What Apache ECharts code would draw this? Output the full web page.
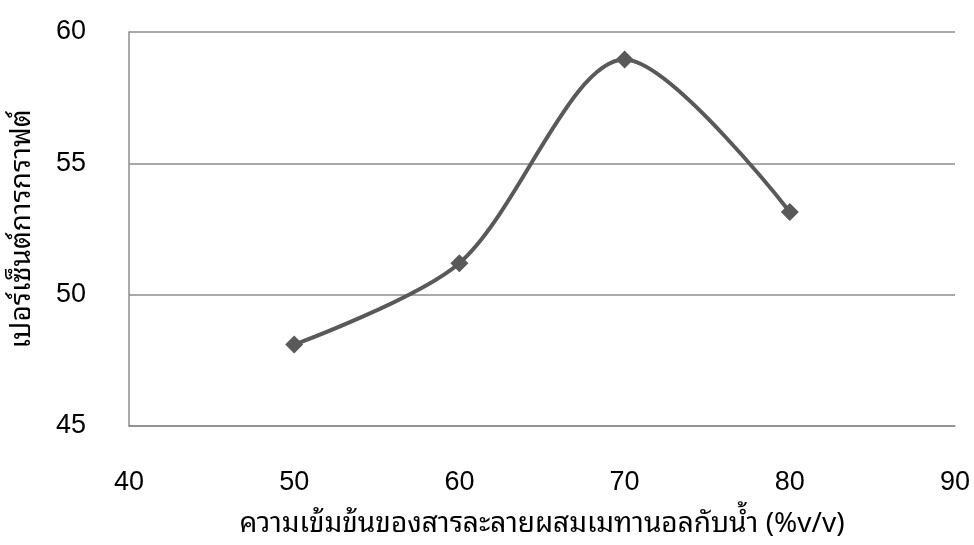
<!DOCTYPE html>
<html><head><meta charset="utf-8">
<script src="https://cdn.jsdelivr.net/npm/echarts@6/dist/echarts.min.js"></script>
<style>html,body{margin:0;padding:0;background:#fff}#c{width:974px;height:545px}</style>
</head><body><div id="c"></div>
<script>
const xValues = [50, 60, 70, 80];
const yValues = [48.1, 51.2, 58.95, 53.15];
const xName = 'ความเข้มข้นของสารละลายผสมเมทานอลกับน้ำ (%v/v)';
const yName = 'เปอร์เซ็นต์การกราฟต์';
const font = '"Noto Sans Thai Looped", "Noto Sans Thai", "Noto Sans", sans-serif';
const numFont = '"Liberation Sans", Arial, sans-serif';

const chart = echarts.init(document.getElementById('c'));
chart.setOption({
  animation: false,
  grid: {left: 129, right: 19, top: 32, bottom: 119, outerBoundsMode: 'none', containLabel: false},
  xAxis: {
    type: 'value', min: 40, max: 90, interval: 10,
    name: xName, nameLocation: 'middle', nameGap: 84,
    nameTextStyle: {fontFamily: font, fontSize: 28, color: '#000'},
    axisLine: {show: true, onZero: false, lineStyle: {color: '#8c8c8c', width: 1.5}},
    axisTick: {show: false},
    splitLine: {show: false},
    axisLabel: {margin: 43, fontFamily: numFont, fontSize: 27, color: '#000'}
  },
  yAxis: {
    type: 'value', min: 45, max: 60, interval: 5,
    name: yName, nameLocation: 'middle', nameGap: 93, nameRotate: 90,
    nameTextStyle: {fontFamily: font, fontSize: 28, color: '#000'},
    axisLine: {show: true, lineStyle: {color: '#8c8c8c', width: 1.5}},
    axisTick: {show: false},
    splitLine: {show: true, lineStyle: {color: '#8c8c8c', width: 1.5}},
    axisLabel: {margin: 43, fontFamily: numFont, fontSize: 27, color: '#000'}
  },
  series: [{
    type: 'line',
    data: xValues.map((x, i) => [x, yValues[i]]),
    smooth: 0.3,
    symbol: 'diamond', symbolSize: 18,
    lineStyle: {color: '#595959', width: 4},
    itemStyle: {color: '#595959'}
  }]
});
</script></body></html>
